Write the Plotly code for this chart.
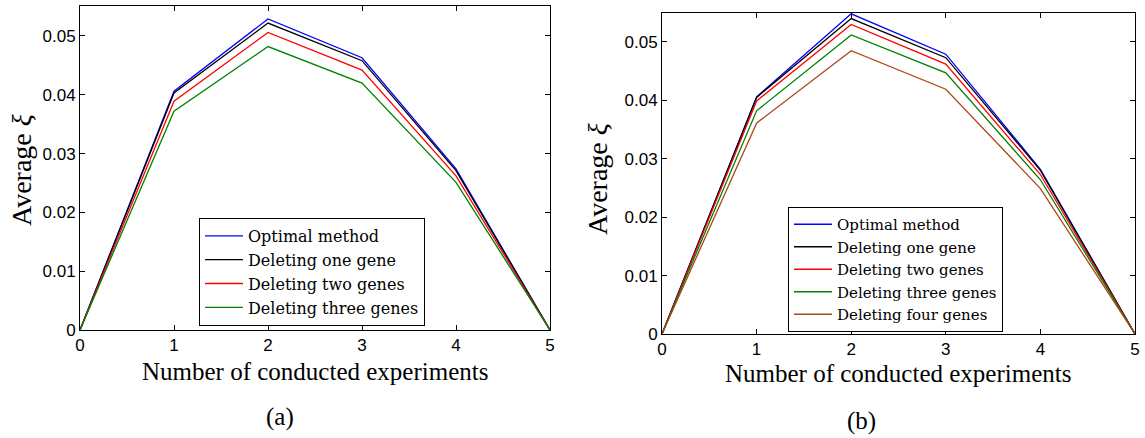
import plotly.graph_objects as go

W, H = 1145, 438

experiments = [0, 1, 2, 3, 4, 5]

# Panel (a)
a_names = ["Optimal method", "Deleting one gene", "Deleting two genes", "Deleting three genes"]
a_optimal = [0, 0.0406, 0.0529, 0.0463, 0.0274, 0]
a_one = [0, 0.0403, 0.0522, 0.0458, 0.0271, 0]
a_two = [0, 0.0389, 0.0506, 0.0442, 0.0262, 0]
a_three = [0, 0.0372, 0.0482, 0.0420, 0.0251, 0]

# Panel (b)
b_names = ["Optimal method", "Deleting one gene", "Deleting two genes",
           "Deleting three genes", "Deleting four genes"]
b_optimal = [0, 0.0406, 0.0548, 0.0479, 0.0282, 0]
b_one = [0, 0.0405, 0.0540, 0.0473, 0.0280, 0]
b_two = [0, 0.0399, 0.0530, 0.0462, 0.0273, 0]
b_three = [0, 0.0382, 0.0512, 0.0447, 0.0264, 0]
b_four = [0, 0.0361, 0.0485, 0.0419, 0.0249, 0]

y_ticks = [0, 0.01, 0.02, 0.03, 0.04, 0.05]
y_tick_labels = ["0", "0.01", "0.02", "0.03", "0.04", "0.05"]
x_ticks = [0, 1, 2, 3, 4, 5]

colors = ["rgb(0,0,255)", "rgb(0,0,0)", "rgb(255,0,0)", "rgb(0,128,0)", "rgb(170,72,25)"]

SERIF = "Liberation Serif"
LEG_SERIF = "DejaVu Serif"
SANS = "Liberation Sans"

fig = go.Figure()

for name, vals, c in zip(a_names, [a_optimal, a_one, a_two, a_three], colors):
    fig.add_trace(go.Scatter(x=experiments, y=vals, mode="lines", name=name,
                             line=dict(color=c, width=1.3), xaxis="x", yaxis="y",
                             legend="legend"))

for name, vals, c in zip(b_names, [b_optimal, b_one, b_two, b_three, b_four], colors):
    fig.add_trace(go.Scatter(x=experiments, y=vals, mode="lines", name=name,
                             line=dict(color=c, width=1.3), xaxis="x2", yaxis="y2",
                             legend="legend2"))

def px_x(p):
    return p / W

def px_y(p):
    return 1 - p / H

axis_common = dict(showline=True, linecolor="black", linewidth=1, mirror="ticks",
                   ticks="inside", ticklen=5, tickcolor="black", showgrid=False,
                   zeroline=False, automargin=False,
                   tickfont=dict(family=SANS, size=17, color="black"))

fig.update_layout(
    width=W, height=H, autosize=False,
    margin=dict(l=0, r=0, t=0, b=0, pad=0, autoexpand=False),
    paper_bgcolor="white", plot_bgcolor="white",
    xaxis=dict(domain=[px_x(80), px_x(550)], range=[0, 5], tickvals=x_ticks,
               anchor="y", **axis_common),
    yaxis=dict(domain=[px_y(330), px_y(6)], range=[0, 0.0551], tickvals=y_ticks,
               ticktext=y_tick_labels, anchor="x", **axis_common),
    xaxis2=dict(domain=[px_x(662), px_x(1135)], range=[0, 5], tickvals=x_ticks,
                anchor="y2", **axis_common),
    yaxis2=dict(domain=[px_y(334), px_y(12.7)], range=[0, 0.0550], tickvals=y_ticks,
                ticktext=y_tick_labels, anchor="x2", **axis_common),
    legend=dict(x=px_x(199), y=px_y(326), xanchor="left", yanchor="bottom",
                bgcolor="white", bordercolor="black", borderwidth=1, itemwidth=38,
                font=dict(family=LEG_SERIF, size=16, color="black"), tracegroupgap=0),
    legend2=dict(x=px_x(788), y=px_y(332), xanchor="left", yanchor="bottom",
                 bgcolor="white", bordercolor="black", borderwidth=1, itemwidth=38,
                 font=dict(family=LEG_SERIF, size=15, color="black"), tracegroupgap=0),
    showlegend=True,
)

ann = []
ann.append(dict(text="Number of conducted experiments", x=px_x(315), y=px_y(371),
                xref="paper", yref="paper", showarrow=False, xanchor="center",
                yanchor="middle", font=dict(family=SERIF, size=25, color="black")))
ann.append(dict(text="Number of conducted experiments", x=px_x(898), y=px_y(373),
                xref="paper", yref="paper", showarrow=False, xanchor="center",
                yanchor="middle", font=dict(family=SERIF, size=25, color="black")))
ann.append(dict(text="Average <i>ξ</i>", x=px_x(22), y=px_y(170), textangle=-90,
                xref="paper", yref="paper", showarrow=False, xanchor="center",
                yanchor="middle", font=dict(family=SERIF, size=28, color="black")))
ann.append(dict(text="Average <i>ξ</i>", x=px_x(597), y=px_y(179), textangle=-90,
                xref="paper", yref="paper", showarrow=False, xanchor="center",
                yanchor="middle", font=dict(family=SERIF, size=28, color="black")))
ann.append(dict(text="(a)", x=px_x(280), y=px_y(417),
                xref="paper", yref="paper", showarrow=False, xanchor="center",
                yanchor="middle", font=dict(family=SERIF, size=25, color="black")))
ann.append(dict(text="(b)", x=px_x(861), y=px_y(421),
                xref="paper", yref="paper", showarrow=False, xanchor="center",
                yanchor="middle", font=dict(family=SERIF, size=25, color="black")))
fig.update_layout(annotations=ann)

fig.write_html("out.html", post_script="document.body.style.margin='0px';",
               config={"displayModeBar": False})
